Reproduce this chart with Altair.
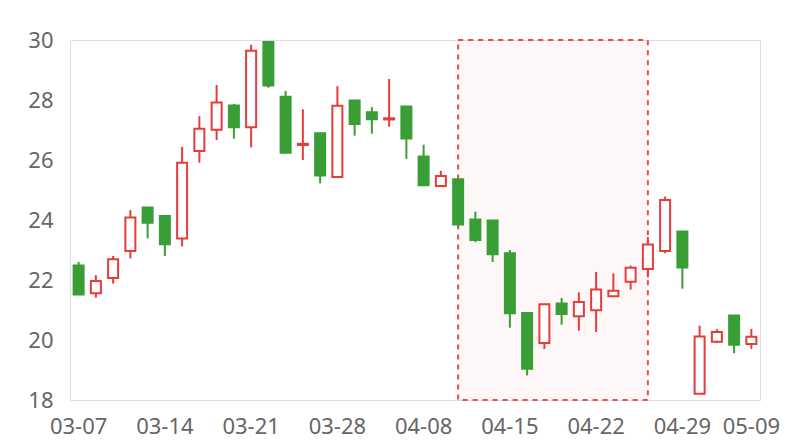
import altair as alt
import pandas as pd

dates = ["03-07", "03-08", "03-11", "03-12", "03-13", "03-14", "03-15", "03-18", "03-19", "03-20",
         "03-21", "03-22", "03-25", "03-26", "03-27", "03-28", "03-29", "04-01", "04-02", "04-03",
         "04-08", "04-09", "04-10", "04-11", "04-12", "04-15", "04-16", "04-17", "04-18", "04-19",
         "04-22", "04-23", "04-24", "04-25", "04-26", "04-29", "04-30", "05-06", "05-07", "05-09"]
opens = [22.48, 21.56, 22.07, 22.97, 24.42, 24.13, 23.38, 26.30, 27.01, 27.82,
         27.09, 29.93, 28.11, 26.50, 26.89, 25.43, 27.98, 27.59, 27.35, 27.78,
         26.12, 25.13, 25.36, 24.02, 23.98, 22.89, 20.90, 19.90, 21.22, 20.79,
         20.99, 21.46, 21.94, 22.37, 22.97, 23.62, 18.21, 19.94, 20.82, 19.87]
closes = [21.52, 21.97, 22.69, 24.08, 23.91, 23.19, 25.91, 27.04, 27.92, 27.09,
          29.64, 28.48, 26.24, 26.54, 25.48, 27.81, 27.20, 27.36, 27.39, 26.72,
          25.16, 25.47, 23.85, 23.33, 22.86, 20.89, 19.04, 21.19, 20.87, 21.27,
          21.68, 21.64, 22.41, 23.18, 24.67, 22.42, 20.12, 20.27, 19.84, 20.11]
lows = [21.52, 21.41, 21.88, 22.72, 23.39, 22.80, 23.12, 25.91, 26.67, 26.71,
        26.42, 28.41, 26.24, 26.00, 25.22, 25.43, 26.81, 26.88, 27.11, 26.04,
        25.16, 25.13, 23.76, 23.26, 22.60, 20.41, 18.82, 19.70, 20.51, 20.31,
        20.27, 21.45, 21.68, 22.09, 22.89, 21.71, 18.21, 19.90, 19.56, 19.70]
highs = [22.60, 22.16, 22.80, 24.33, 24.42, 24.13, 26.44, 27.46, 28.50, 27.87,
         29.84, 29.97, 28.30, 27.69, 26.89, 28.46, 27.98, 27.76, 28.70, 27.78,
         26.51, 25.64, 25.36, 24.28, 23.98, 23.00, 20.90, 21.19, 21.40, 21.59,
         22.27, 22.22, 22.48, 23.43, 24.78, 23.62, 20.48, 20.36, 20.82, 20.37]
label_dates = ["03-07", "03-14", "03-21", "03-28", "04-08", "04-15", "04-22", "04-29", "05-09"]
highlight_start = "04-10"
highlight_end = "04-25"
y_ticks = [18, 20, 22, 24, 26, 28, 30]

RED = "#e63c3c"
GREEN = "#3a9e36"
FONT = "Noto Sans"

df = pd.DataFrame({"date": dates, "open": opens, "close": closes, "low": lows, "high": highs})
df["dir"] = ["up" if c >= o else "down" for o, c in zip(opens, closes)]

xscale = alt.Scale(domain=dates, paddingInner=0, paddingOuter=0)
yscale = alt.Scale(domain=[18, 30], nice=False, zero=False)

x_enc = alt.X("date:N", scale=xscale, sort=dates, title=None,
              axis=alt.Axis(values=label_dates, labelAngle=0, labelAlign="center",
                            labelBaseline="top", ticks=False, domain=False,
                            labelFontSize=22, labelColor="#666666", labelFont=FONT,
                            labelPadding=16, grid=False, labelOverlap=False))

area_df = pd.DataFrame({"start": [highlight_start], "end": [highlight_end]})
area = alt.Chart(area_df).mark_rect(
    fill=RED, fillOpacity=0.04, stroke="#ee4a4a", strokeWidth=2, strokeDash=[5, 5]
).encode(
    x=alt.X("start:N", scale=xscale, sort=dates, bandPosition=0.5),
    x2=alt.X2("end:N", bandPosition=0.5),
    y=alt.datum(30, scale=yscale),
    y2=alt.datum(18),
)

color_scale = alt.Scale(domain=["up", "down"], range=[RED, GREEN])
fill_scale = alt.Scale(domain=["up", "down"], range=["#ffffff", GREEN])

base = alt.Chart(df)
wicks = base.mark_rule(strokeWidth=2).encode(
    x=x_enc,
    y=alt.Y("low:Q", scale=yscale, title=None,
            axis=alt.Axis(values=y_ticks, ticks=False, domain=False, gridColor="#d0d0d0",
                          labelFontSize=22, labelColor="#666666", labelFont=FONT,
                          labelPadding=17)),
    y2="high:Q",
    stroke=alt.Stroke("dir:N", scale=color_scale, legend=None),
)
bodies = base.mark_bar(size=10, strokeWidth=2).encode(
    x=alt.X("date:N", scale=xscale, sort=dates),
    y=alt.Y("open:Q", scale=yscale),
    y2="close:Q",
    stroke=alt.Stroke("dir:N", scale=color_scale, legend=None),
    fill=alt.Fill("dir:N", scale=fill_scale, legend=None),
)

chart = alt.layer(area, wicks, bodies).properties(
    width=690, height=360,
    autosize=alt.AutoSizeParams(type="none"),
    padding={"left": 62, "top": 32, "right": 30, "bottom": 40},
).configure_view(stroke="#cccccc", strokeWidth=1).configure(background="white")

chart.save("out.html", embed_options={"renderer": "svg", "actions": False})
